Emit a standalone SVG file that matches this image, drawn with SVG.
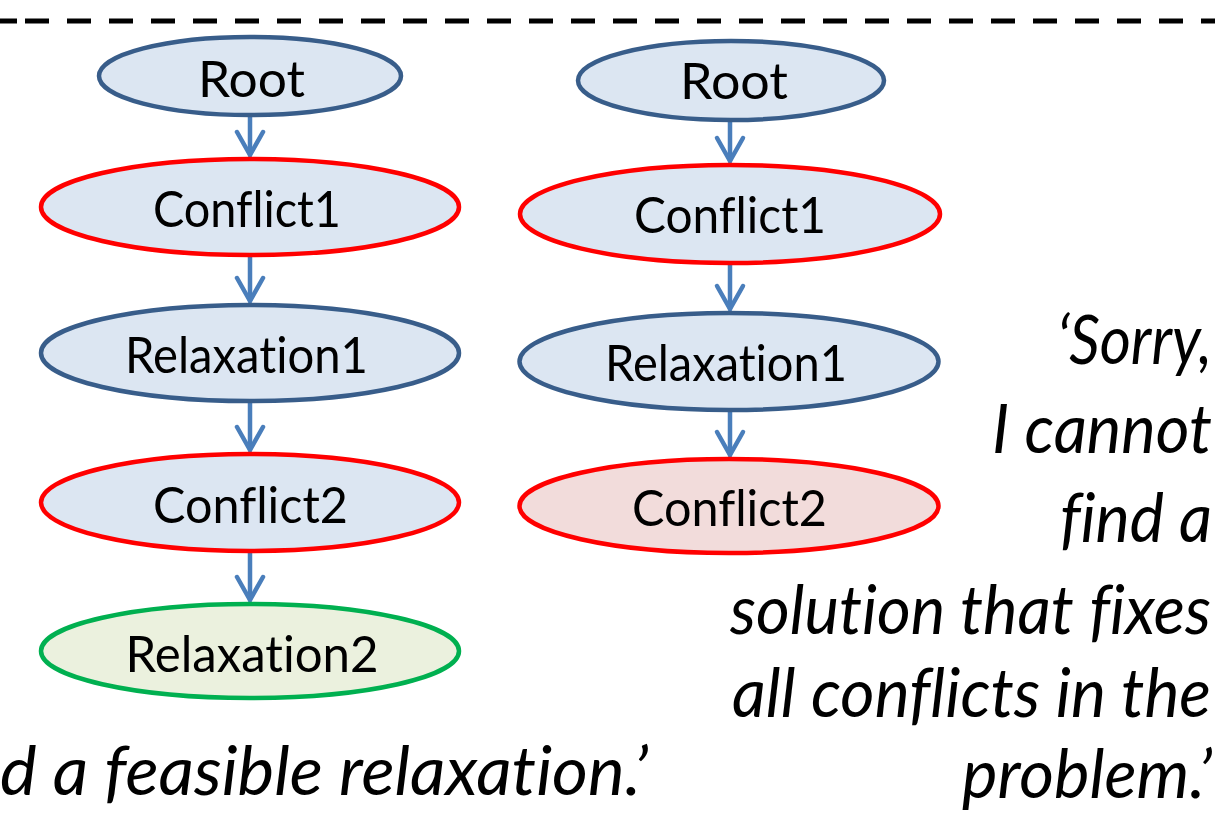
<svg xmlns="http://www.w3.org/2000/svg" width="1215" height="819" viewBox="0 0 1215 819">
<style>
.bg{fill:#ffffff}
.nb{fill:#dce6f2;stroke:#385d8a;stroke-width:4.5}
.nr{fill:#dce6f2;stroke:#ff0000;stroke-width:4.5}
.np{fill:#f2dcdb;stroke:#ff0000;stroke-width:4.5}
.ng{fill:#ebf1de;stroke:#00b050;stroke-width:4.5}
.lbl{font-family:Lato,"Open Sans","Liberation Sans",sans-serif;font-size:51px;fill:#000;text-anchor:middle;font-variant-ligatures:none}
.quote{font-family:Lato,"Open Sans","Liberation Sans",sans-serif;font-size:67px;font-style:italic;fill:#000;font-variant-ligatures:none}
.edge{stroke:#4a7ebb;stroke-width:4.5;fill:none;stroke-linecap:round;marker-end:url(#arr)}
.dash{stroke:#000;stroke-width:5;fill:none}
</style>
<defs>
<marker id="arr" markerUnits="userSpaceOnUse" markerWidth="40" markerHeight="40" refX="0" refY="0" orient="auto" overflow="visible">
<path d="M-23,-13 L0,0 L-23,13" fill="none" stroke="#4a7ebb" stroke-width="4.5" stroke-linecap="round" stroke-linejoin="round"/>
</marker>
</defs>
<rect class="bg" x="0" y="0" width="1215" height="819"/>
<g id="separator">
<line class="dash" x1="0" y1="21" x2="17" y2="21"/>
<line class="dash" x1="25" y1="21" x2="1215" y2="21" stroke-dasharray="24 18"/>
</g>
<g id="connectors">
<line class="edge" x1="250" y1="117" x2="250" y2="155"/>
<line class="edge" x1="250" y1="257" x2="250" y2="301"/>
<line class="edge" x1="250" y1="403" x2="250" y2="450"/>
<line class="edge" x1="250" y1="553" x2="250" y2="600"/>
<line class="edge" x1="730" y1="122" x2="730" y2="161"/>
<line class="edge" x1="730" y1="265" x2="730" y2="309"/>
<line class="edge" x1="730" y1="412" x2="730" y2="455"/>
</g>
<g id="L-root"><ellipse class="nb" cx="250" cy="76" rx="151" ry="39"/><text class="lbl" x="251.5" y="97" textLength="107" lengthAdjust="spacingAndGlyphs">Root</text></g>
<g id="L-conflict1"><ellipse class="nr" cx="250" cy="207" rx="209" ry="48"/><text class="lbl" x="247" y="227" textLength="188" lengthAdjust="spacingAndGlyphs">Conflict1</text></g>
<g id="L-relaxation1"><ellipse class="nb" cx="250" cy="353" rx="209" ry="48"/><text class="lbl" x="246.5" y="373" textLength="243" lengthAdjust="spacingAndGlyphs">Relaxation1</text></g>
<g id="L-conflict2"><ellipse class="nr" cx="250" cy="502.5" rx="209" ry="48.5"/><text class="lbl" x="250.5" y="523" textLength="195" lengthAdjust="spacingAndGlyphs">Conflict2</text></g>
<g id="L-relaxation2"><ellipse class="ng" cx="250" cy="651" rx="209" ry="47"/><text class="lbl" x="252" y="672" textLength="253" lengthAdjust="spacingAndGlyphs">Relaxation2</text></g>
<g id="R-root"><ellipse class="nb" cx="731" cy="80.5" rx="153" ry="39.5"/><text class="lbl" x="734" y="99" textLength="108" lengthAdjust="spacingAndGlyphs">Root</text></g>
<g id="R-conflict1"><ellipse class="nr" cx="730" cy="214" rx="210" ry="49"/><text class="lbl" x="730" y="233" textLength="192" lengthAdjust="spacingAndGlyphs">Conflict1</text></g>
<g id="R-relaxation1"><ellipse class="nb" cx="729" cy="361.5" rx="209.5" ry="48.5"/><text class="lbl" x="726" y="381" textLength="242" lengthAdjust="spacingAndGlyphs">Relaxation1</text></g>
<g id="R-conflict2"><ellipse class="np" cx="729" cy="506" rx="209.5" ry="47"/><text class="lbl" x="729.5" y="526" textLength="195" lengthAdjust="spacingAndGlyphs">Conflict2</text></g>
<g id="captions">
<text class="quote" x="0" y="795" textLength="648" lengthAdjust="spacingAndGlyphs">d a feasible relaxation.’</text>
<text class="quote" x="1057" y="364" textLength="155" lengthAdjust="spacingAndGlyphs">‘Sorry,</text>
<text class="quote" x="992" y="453" textLength="220" lengthAdjust="spacingAndGlyphs">I cannot</text>
<text class="quote" x="1060" y="542" textLength="152" lengthAdjust="spacingAndGlyphs">find a</text>
<text class="quote" x="730" y="634" textLength="481" lengthAdjust="spacingAndGlyphs">solution that fixes</text>
<text class="quote" x="732" y="717" textLength="479" lengthAdjust="spacingAndGlyphs">all conflicts in the</text>
<text class="quote" x="962" y="798" textLength="250" lengthAdjust="spacingAndGlyphs">problem.’</text>
</g>
</svg>
